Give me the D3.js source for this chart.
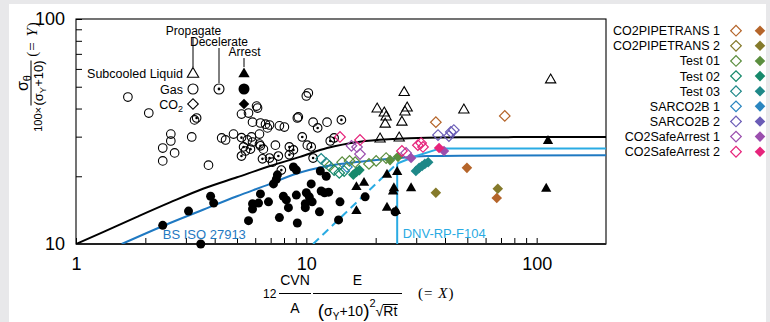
<!DOCTYPE html>
<html>
<head>
<meta charset="utf-8">
<script src="https://cdn.jsdelivr.net/npm/d3@7"></script>
<style>
html, body { margin: 0; padding: 0; background: #e8e8ea; }
svg { display: block; font-family: "Liberation Sans", Arial, sans-serif; }
</style>
</head>
<body>
<svg id="chart" width="770" height="322"></svg>
<script>
// ---- data (X, Y) ----
const gasPropagate = [[1.68,45.0],[2.07,38.2],[2.58,30.8],[2.58,28.7],[2.38,26.7],[2.68,25.4],[2.38,23.4],[3.18,29.9],[3.27,35.6],[3.76,22.4],[4.29,29.6],[4.46,29.0],[4.83,30.8],[5.78,29.9],[5.84,28.4],[5.44,25.9],[6.26,30.8],[6.08,41.0],[5.61,38.2],[5.23,37.8],[5.84,34.8],[6.32,34.5],[6.65,34.1],[6.14,40.2],[6.92,33.8],[6.78,32.8],[7.64,33.5],[8.03,33.1],[9.14,36.3],[5.55,29.0],[6.26,27.8],[6.51,26.4],[7.34,27.5],[7.13,23.1],[10.2,46.9],[10.0,45.5],[9.23,36.7],[10.7,34.8],[12.3,34.8],[10.1,27.5]];
const gasDecelerate = [[3.34,36.3],[5.23,29.7],[5.34,27.0],[5.72,26.4],[5.23,24.6],[6.45,23.9],[6.92,24.1],[7.56,24.6],[6.32,27.3],[8.44,27.0],[8.79,26.2],[8.44,24.9],[7.79,21.3],[9.6,29.9],[11.2,32.8],[14.2,35.6],[12.7,28.7],[13.2,29.6],[10.5,27.0],[10.7,24.1]];
const gasArrest = [[2.38,12.1],[3.08,14.0],[3.48,10],[3.84,16.3],[3.96,15.2],[5.84,15.1],[5.84,14.3],[6.32,16.7],[6.2,15.2],[5.61,12.7],[6.85,15.4],[7.41,19.4],[7.2,18.5],[7.49,20.3],[7.95,16.3],[8.19,15.7],[8.36,14.5],[7.64,13.1],[8.79,22.0],[9.05,21.3],[9.05,16.5],[9.14,12.4],[10.0,16.9],[10.3,16.2],[10.5,18.5],[11.5,21.1],[12.2,20.0],[11.6,17.2],[12.0,16.9],[12.5,17.0],[9.9,15.1],[9.9,14.5],[10.6,15.4],[11.4,13.9],[14.0,15.4],[13.8,12.8],[18.0,16.2],[24.3,13.9]];
const liquidPropagate = [[26.6,47.1],[20.3,39.8],[21.8,38.2],[22.2,36.7],[22.0,34.1],[27.4,40.2],[26.8,38.6],[26.0,34.8],[20.9,29.3],[25.3,29.6],[48.3,39.4],[115,53.6]];
const liquidArrest = [[16.5,17.9],[17.8,18.7],[16.5,14.0],[22.4,20.3],[24.8,20.9],[24.0,17.7],[23.8,17.1],[28.5,17.7],[22.4,14.5],[24.5,14.0],[112,28.7],[110,17.6]];

const co2Tests = ['CO2PIPETRANS 1','CO2PIPETRANS 2','Test 01','Test 02','Test 03','SARCO2B 1','SARCO2B 2','CO2SafeArrest 1','CO2SafeArrest 2'];
const co2Colors = ['#b5652a','#857a2b','#5b8e3e','#16896b','#1e8888','#2a86c0','#6a5cb6','#9b4fae','#e6247b'];
// open = propagate, filled = arrest
const co2Propagate = [
  [[36.5,34.8],[72.7,37.1]],
  [],
  [[12.6,22.2],[14.3,23.1],[15.4,23.4],[16.3,23.1],[18.7,22.7],[20.1,23.4],[22.2,24.1]],
  [[13.2,21.3],[13.9,20.7],[14.6,21.1]],
  [[11.6,23.9],[12.2,22.9]],
  [[15.0,22.0]],
  [[37.3,30.5],[41.6,30.2],[42.4,31.5],[43.7,32.1]],
  [[15.7,27.3],[16.6,27.0],[17.1,25.1],[27.1,25.4]],
  [[14.0,29.9],[17.1,29.0],[26.0,25.9],[30.5,27.5],[32.1,27.0],[31.5,28.1]]
];
const co2Arrest = [
  [[49.8,21.8],[67.1,16.0]],
  [[36.5,16.9],[67.8,17.6]],
  [[23.1,23.6],[25.0,24.4]],
  [[16.0,20.3],[16.5,20.9],[17.0,21.3]],
  [[29.9,21.1],[30.9,21.8],[31.8,22.2],[32.7,22.7],[33.8,23.1]],
  [],
  [],
  [[28.5,24.1],[39.6,25.9]],
  [[37.7,26.7]]
];

// reference curves
const battelleCurve = [[1,10],[1.31,11.3],[1.84,13.2],[2.56,15.3],[3.56,17.6],[5.0,19.8],[6.96,22.2],[9.39,24.4],[12.3,26.7],[17.1,28.5],[23.8,29.3],[33.4,29.7],[46.5,29.8],[200,29.9]];
const isoCurve = [[1.58,10],[2.56,12.4],[3.56,14.2],[5.0,16.3],[6.96,18.5],[8.76,20.3],[12.3,22.2],[17.1,23.2],[23.8,24.0],[33.4,24.6],[46.5,24.7],[200,24.8]];
const dnvDashed = [[10.7,10],[24.8,22.8]];
const dnvVertical = [[24.8,10],[24.8,22.8]];
const dnvUpper = [[24.8,22.8],[30,24.6],[38.1,26.6],[200,26.6]];

// axes
const xMajor = [1,10,100];
const xMinor = [2,3,4,5,6,7,8,9,20,30,40,50,60,70,80,90];
const yMajor = [10,100];
const yMinor = [20,30,40,50,60,70,80,90];

// ---- drawing ----
const svg = d3.select('#chart');
svg.append('rect').attr('x', 9).attr('y', 4).attr('width', 757).attr('height', 318).attr('fill', '#fff');

const x = d3.scaleLog().domain([1, 200]).range([76, 606]);
const y = d3.scaleLog().domain([10, 100]).range([244, 19]);

svg.append('defs').append('clipPath').attr('id', 'plotclip')
  .append('rect').attr('x', x(1)).attr('y', y(100)).attr('width', x(200) - x(1)).attr('height', y(10) - y(100));

// axes (inward ticks)
svg.append('g')
  .attr('transform', `translate(0,${y(10)})`)
  .call(d3.axisBottom(x).tickValues(xMajor.concat(xMinor)).tickSize(-6).tickPadding(13)
    .tickFormat(d => xMajor.includes(d) ? String(d) : ''))
  .call(g => g.select('.domain').remove())
  .attr('font-size', 18).attr('font-family', '"Liberation Sans", Arial, sans-serif');

svg.append('g')
  .attr('transform', `translate(${x(1)},0)`)
  .call(d3.axisLeft(y).tickValues(yMajor.concat(yMinor)).tickSize(-6).tickPadding(11)
    .tickFormat(d => yMajor.includes(d) ? String(d) : ''))
  .call(g => g.select('.domain').remove())
  .attr('font-size', 18).attr('font-family', '"Liberation Sans", Arial, sans-serif');

// frame
svg.append('rect').attr('x', x(1)).attr('y', y(100)).attr('width', x(200) - x(1)).attr('height', y(10) - y(100))
  .attr('fill', 'none').attr('stroke', '#000').attr('stroke-width', 1.1);
svg.append('line').attr('x1', x(1)).attr('x2', x(200)).attr('y1', y(10)).attr('y2', y(10))
  .attr('stroke', '#222').attr('stroke-width', 2);

// curves
const curves = svg.append('g').attr('clip-path', 'url(#plotclip)').attr('fill', 'none');
const smooth = d3.line().x(d => x(d[0])).y(d => y(d[1])).curve(d3.curveMonotoneX);
const straight = d3.line().x(d => x(d[0])).y(d => y(d[1]));
curves.append('path').attr('d', smooth(battelleCurve)).attr('stroke', '#000').attr('stroke-width', 2);
curves.append('path').attr('d', smooth(isoCurve)).attr('stroke', '#1f79c2').attr('stroke-width', 2);
curves.append('path').attr('d', straight(dnvDashed)).attr('stroke', '#2aabe3').attr('stroke-width', 2).attr('stroke-dasharray', '8,5');
curves.append('path').attr('d', straight(dnvVertical)).attr('stroke', '#2aabe3').attr('stroke-width', 2);
curves.append('path').attr('d', straight(dnvUpper)).attr('stroke', '#2aabe3').attr('stroke-width', 2);

svg.append('text').attr('x', x(2.38)).attr('y', 238.5).attr('font-size', 13).attr('fill', '#1f79c2').text('BS ISO 27913');
svg.append('text').attr('x', x(26.2)).attr('y', 238).attr('font-size', 13).attr('fill', '#2aabe3').text('DNV-RP-F104');

// marker shapes
const triPath = d3.symbol(d3.symbolTriangle, 46)();
const triPathBig = d3.symbol(d3.symbolTriangle, 56)();
const diaPath = d3.symbol(d3.symbolSquare, 56)();
const pos = d => `translate(${x(d[0])},${y(d[1])})`;

const marks = svg.append('g');
marks.append('g').selectAll('circle').data(gasPropagate).join('circle')
  .attr('cx', d => x(d[0])).attr('cy', d => y(d[1])).attr('r', 4.3)
  .attr('fill', 'none').attr('stroke', '#000').attr('stroke-width', 1.1);
const dec = marks.append('g').selectAll('g').data(gasDecelerate).join('g').attr('transform', pos);
dec.append('circle').attr('r', 4.3).attr('fill', 'none').attr('stroke', '#000').attr('stroke-width', 1.1);
dec.append('circle').attr('r', 1.3).attr('fill', '#000');
marks.append('g').selectAll('circle').data(gasArrest).join('circle')
  .attr('cx', d => x(d[0])).attr('cy', d => y(d[1])).attr('r', 4.5).attr('fill', '#000');
marks.append('g').selectAll('path').data(liquidPropagate).join('path')
  .attr('d', triPath).attr('transform', pos)
  .attr('fill', 'none').attr('stroke', '#000').attr('stroke-width', 1.1);
marks.append('g').selectAll('path').data(liquidArrest).join('path')
  .attr('d', triPath).attr('transform', pos).attr('fill', '#000');

co2Tests.forEach((name, i) => {
  marks.append('g').selectAll('path').data(co2Propagate[i]).join('path')
    .attr('d', diaPath).attr('transform', d => pos(d) + ' rotate(45)')
    .attr('fill', 'none').attr('stroke', co2Colors[i]).attr('stroke-width', 1.2);
  marks.append('g').selectAll('path').data(co2Arrest[i]).join('path')
    .attr('d', diaPath).attr('transform', d => pos(d) + ' rotate(45)')
    .attr('fill', co2Colors[i]);
});

// key inside the plot
const key = svg.append('g').attr('font-size', 12);
key.append('text').attr('x', 193.5).attr('y', 34.5).attr('text-anchor', 'middle').text('Propagate');
key.append('text').attr('x', 219).attr('y', 45.5).attr('text-anchor', 'middle').text('Decelerate');
key.append('text').attr('x', 244.5).attr('y', 56).attr('text-anchor', 'middle').text('Arrest');
key.append('line').attr('x1', 193).attr('x2', 193).attr('y1', 38).attr('y2', 67).attr('stroke', '#000');
key.append('line').attr('x1', 219).attr('x2', 219).attr('y1', 48).attr('y2', 83).attr('stroke', '#000');
key.append('line').attr('x1', 244).attr('x2', 244).attr('y1', 58).attr('y2', 67).attr('stroke', '#000');
key.append('text').attr('x', 183).attr('y', 77.5).attr('text-anchor', 'end').attr('font-size', 12.5).text('Subcooled Liquid');
key.append('text').attr('x', 183).attr('y', 93.5).attr('text-anchor', 'end').attr('font-size', 12.5).text('Gas');
const co2k = key.append('text').attr('x', 183).attr('y', 108.5).attr('text-anchor', 'end').attr('font-size', 12.5);
co2k.append('tspan').text('CO');
co2k.append('tspan').attr('font-size', 9).attr('dy', 3).text('2');
key.append('path').attr('d', triPathBig).attr('transform', 'translate(193,74)').attr('fill', 'none').attr('stroke', '#000').attr('stroke-width', 1.1);
key.append('path').attr('d', triPathBig).attr('transform', 'translate(244,74)').attr('fill', '#000');
key.append('circle').attr('cx', 193).attr('cy', 89).attr('r', 5).attr('fill', 'none').attr('stroke', '#000').attr('stroke-width', 1.1);
key.append('circle').attr('cx', 219).attr('cy', 89).attr('r', 5).attr('fill', 'none').attr('stroke', '#000').attr('stroke-width', 1.1);
key.append('circle').attr('cx', 219).attr('cy', 89).attr('r', 1.4).attr('fill', '#000');
key.append('circle').attr('cx', 244).attr('cy', 89).attr('r', 5.5).attr('fill', '#000');
key.append('path').attr('d', diaPath).attr('transform', 'translate(193,104) rotate(45)').attr('fill', 'none').attr('stroke', '#000').attr('stroke-width', 1.1);
key.append('path').attr('d', diaPath).attr('transform', 'translate(244,104) rotate(45)').attr('fill', '#000');

// legend on the right
const leg = svg.append('g').attr('font-size', 12.5);
co2Tests.forEach((name, i) => {
  const cy = 30.7 + i * 15.13;
  leg.append('text').attr('x', 720).attr('y', cy + 4.5).attr('text-anchor', 'end').text(name);
  leg.append('path').attr('d', diaPath).attr('transform', `translate(736,${cy}) rotate(45)`)
    .attr('fill', 'none').attr('stroke', co2Colors[i]).attr('stroke-width', 1.2);
  leg.append('path').attr('d', diaPath).attr('transform', `translate(760,${cy}) rotate(45)`)
    .attr('fill', co2Colors[i]);
});

// y axis title (rotated; local x = -screenY, local y = screenX)
const yt = svg.append('g').attr('transform', 'rotate(-90)');
yt.append('text').attr('x', -107).attr('y', 42).attr('text-anchor', 'end').attr('font-size', 11).text('100×');
const num = yt.append('text').attr('x', -83).attr('y', 28).attr('text-anchor', 'middle').attr('font-size', 16);
num.append('tspan').text('σ');
num.append('tspan').attr('font-size', 11).attr('dy', 3).text('θ');
yt.append('line').attr('x1', -105.5).attr('x2', -60.5).attr('y1', 31).attr('y2', 31).attr('stroke', '#000').attr('stroke-width', 1);
const den = yt.append('text').attr('x', -83).attr('y', 42.5).attr('text-anchor', 'middle').attr('font-size', 13);
den.append('tspan').text('(σ');
den.append('tspan').attr('font-size', 9.5).attr('dy', 3).text('Y');
den.append('tspan').attr('dy', -3).text('+10)');
const eqY = yt.append('text').attr('x', -39).attr('y', 37).attr('text-anchor', 'middle')
  .attr('font-size', 15).attr('letter-spacing', 1).attr('font-family', '"Liberation Serif", "DejaVu Serif", serif');
eqY.append('tspan').text('(= ');
eqY.append('tspan').attr('font-style', 'italic').text('Y');
eqY.append('tspan').text(')');

// x axis title
const xt = svg.append('g');
xt.append('text').attr('x', 263).attr('y', 297.5).attr('font-size', 12).text('12');
xt.append('line').attr('x1', 279).attr('x2', 311).attr('y1', 293.5).attr('y2', 293.5).attr('stroke', '#000');
xt.append('text').attr('x', 295).attr('y', 284.5).attr('text-anchor', 'middle').attr('font-size', 14).text('CVN');
xt.append('text').attr('x', 295).attr('y', 313).attr('text-anchor', 'middle').attr('font-size', 14).text('A');
xt.append('text').attr('x', 357.5).attr('y', 284.5).attr('text-anchor', 'middle').attr('font-size', 14).text('E');
xt.append('line').attr('x1', 313).attr('x2', 402).attr('y1', 293.5).attr('y2', 293.5).attr('stroke', '#000');

// denominator laid out piece by piece
const denParts = [
  { t: '(', fs: 19, dy: 1 },
  { t: 'σ', fs: 14, dy: 0 },
  { t: 'Y', fs: 10, dy: 4 },
  { t: '+10', fs: 14, dy: 0 },
  { t: ')', fs: 19, dy: 1 },
  { t: '2', fs: 11, dy: -9 },
  { t: '√', fs: 14, dy: 0 },
  { t: 'Rt', fs: 14, dy: 0, over: true }
];
const dg = xt.append('g');
let cx = 0;
denParts.forEach(p => {
  const t = dg.append('text').attr('x', cx).attr('y', 316 + p.dy).attr('font-size', p.fs).text(p.t);
  const w = t.node().getComputedTextLength();
  if (p.over) {
    dg.append('line').attr('x1', cx - 0.5).attr('x2', cx + w + 0.5).attr('y1', 316 - 11.5).attr('y2', 316 - 11.5)
      .attr('stroke', '#000').attr('stroke-width', 1);
  }
  cx += w;
});
dg.attr('transform', `translate(${357.5 - cx / 2},0)`);

const eqX = xt.append('text').attr('x', 418).attr('y', 298)
  .attr('font-size', 15).attr('letter-spacing', 1).attr('font-family', '"Liberation Serif", "DejaVu Serif", serif');
eqX.append('tspan').text('(= ');
eqX.append('tspan').attr('font-style', 'italic').text('X');
eqX.append('tspan').text(')');
</script>
</body>
</html>
